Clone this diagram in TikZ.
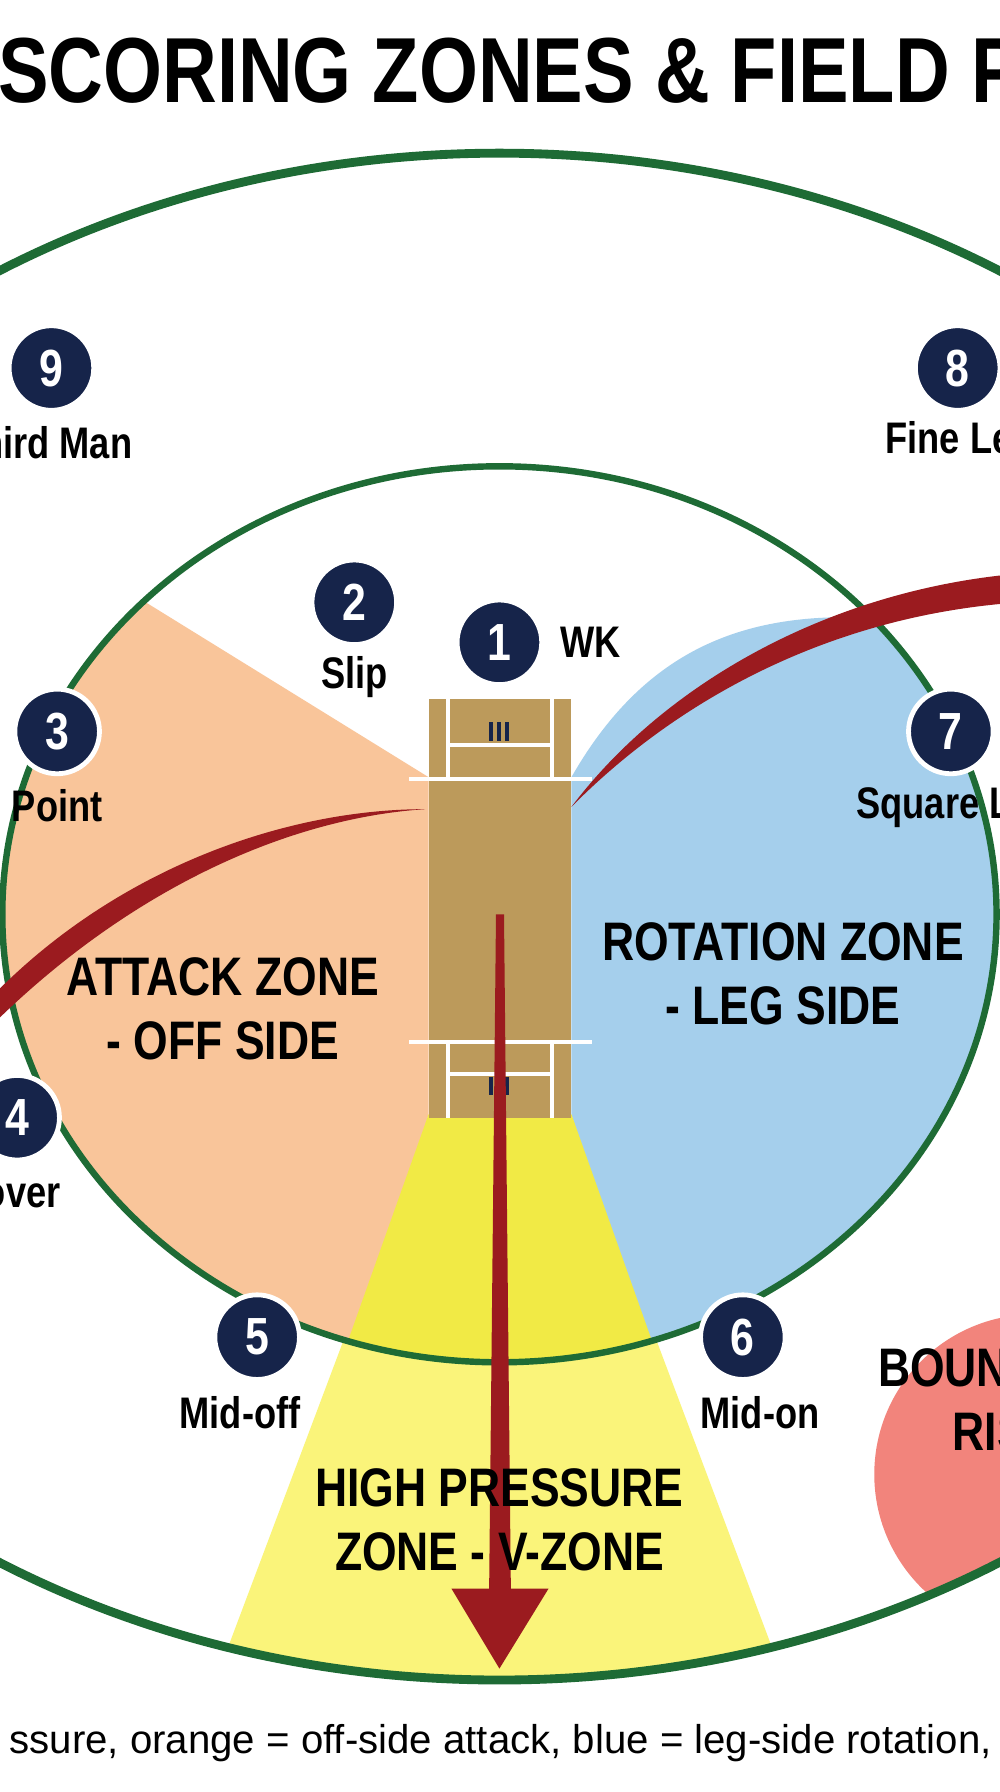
\documentclass[tikz,border=0pt]{standalone}
\usepackage{fontspec}
\setmainfont{Liberation Sans}
\newfontfamily\condfont[FakeStretch=0.82]{Liberation Sans}
\definecolor{fieldgreen}{HTML}{1E6B35}
\definecolor{offorange}{HTML}{F9C59A}
\definecolor{legblue}{HTML}{A5CFEC}
\definecolor{vyellow}{HTML}{F1EA45}
\definecolor{vyellowout}{HTML}{FAF47A}
\definecolor{riskred}{HTML}{F2847C}
\definecolor{pitchtan}{HTML}{BC9A5B}
\definecolor{swoosh}{HTML}{9B1B1F}
\definecolor{navy}{HTML}{16244A}
\tikzset{
  fielder/.style={circle,fill=navy,draw=white,line width=1.2pt,minimum size=0.74cm,inner sep=0pt,
    text=white,font=\condfont\bfseries\fontsize{13}{13}\selectfont},
  fname/.style={font=\condfont\bfseries\fontsize{11}{11}\selectfont,text=black},
  zonetext/.style={font=\condfont\bfseries\fontsize{13.5}{16}\selectfont,align=center,text=black},
  crease/.style={draw=white,line width=1pt}
}
\begin{document}
\begin{tikzpicture}[x=0.01cm,y=-0.01cm]
  \useasboundingbox (0,0) rectangle (875,1568);
  \clip (0,0) rectangle (875,1568);
  \fill[white] (0,0) rectangle (875,1568);
  % outer field and zones
  \begin{scope}
    \clip (437,802) ellipse [x radius=820, y radius=668];
    \fill[vyellowout] (375,975) -- (500,975) -- (690,1480) -- (185,1480) -- cycle;
    \fill[riskred] (905,1290) circle [radius=140];
  \end{scope}
  \begin{scope}
    \clip (437,800) ellipse [x radius=435, y radius=392];
    \fill[offorange] (375,680) -- (100,510) -- (-20,510) -- (-20,1200) -- (300,1200) -- (375,975) -- cycle;
    \fill[legblue] (500,680) .. controls (560,575) and (640,540) .. (740,540) -- (900,540)
      -- (900,1200) -- (575,1200) -- (500,975) -- cycle;
    \fill[vyellow] (375,975) -- (500,975) -- (580,1200) -- (295,1200) -- cycle;
  \end{scope}
  \draw[fieldgreen,line width=2.2pt] (437,802) ellipse [x radius=820, y radius=668];
  \draw[fieldgreen,line width=1.6pt] (437,800) ellipse [x radius=435, y radius=392];
  % pitch
  \fill[pitchtan] (375,612) rectangle (500,978);
  \draw[crease] (358,682) -- (518,682);
  \draw[crease] (358,912) -- (518,912);
  \draw[crease] (392,612) -- (392,682) (483,612) -- (483,682) (392,652) -- (483,652);
  \draw[crease] (392,912) -- (392,978) (483,912) -- (483,978) (392,940) -- (483,940);
  \draw[navy,line width=1pt] (430,632) -- (430,648) (437,632) -- (437,648) (444,632) -- (444,648);
  \draw[navy,line width=1pt] (430,942) -- (430,958) (437,942) -- (437,958) (444,942) -- (444,958);
  % shot swooshes
  \fill[swoosh] (-10,875) .. controls (100,760) and (250,708) .. (372,708)
    .. controls (250,716) and (110,780) .. (-10,900) -- cycle;
  \fill[swoosh] (500,706) .. controls (580,600) and (720,520) .. (880,503)
    -- (880,528) .. controls (720,542) and (590,615) .. (500,706) -- cycle;
  % straight drive arrow
  \fill[swoosh] (434,800) -- (441,800) -- (447,1390) -- (480,1390) -- (437,1460)
    -- (395,1390) -- (428,1390) -- cycle;
  % zone labels
  \node[zonetext] (attack) at (195,883) {ATTACK ZONE\\- OFF SIDE};
  \node[zonetext] (rotation) at (685,852) {ROTATION ZONE\\- LEG SIDE};
  \node[zonetext] (vzone) at (437,1330) {HIGH PRESSURE\\ZONE - V-ZONE};
  \node[zonetext] (risk) at (880,1225) {BOUNDARY\\RISK};
  % fielders
  \node[fielder] (f9) at (45,322) {9};
  \node[fname] at (40,387) {Third Man};
  \node[fielder] (f8) at (838,322) {8};
  \node[fname] at (840,387) {Fine Leg};
  \node[fielder] (f2) at (310,527) {2};
  \node[fname] at (310,592) {Slip};
  \node[fielder] (f1) at (437,562) {1};
  \node[fname,anchor=west] at (478,562) {WK};
  \node[fielder] (f3) at (50,640) {3};
  \node[fname] at (50,705) {Point};
  \node[fielder] (f7) at (832,640) {7};
  \node[fname,anchor=west] at (737,707) {Square Leg};
  \node[fielder] (f4) at (15,978) {4};
  \node[fname] at (8,1043) {Cover};
  \node[fielder] (f5) at (225,1170) {5};
  \node[fname] at (210,1236) {Mid-off};
  \node[fielder] (f6) at (650,1170) {6};
  \node[fname] at (665,1236) {Mid-on};
  % title and key
  \node[anchor=west,font=\condfont\bfseries\fontsize{23}{23}\selectfont] (title) at (-14,62) {SCORING ZONES \& FIELD PLACEMENTS};
  \node[anchor=west,font=\fontsize{10}{10}\selectfont] (key) at (-4,1525) {ssure, orange = off-side attack, blue = leg-side rotation, red = boundary risk};
\end{tikzpicture}
\end{document}
